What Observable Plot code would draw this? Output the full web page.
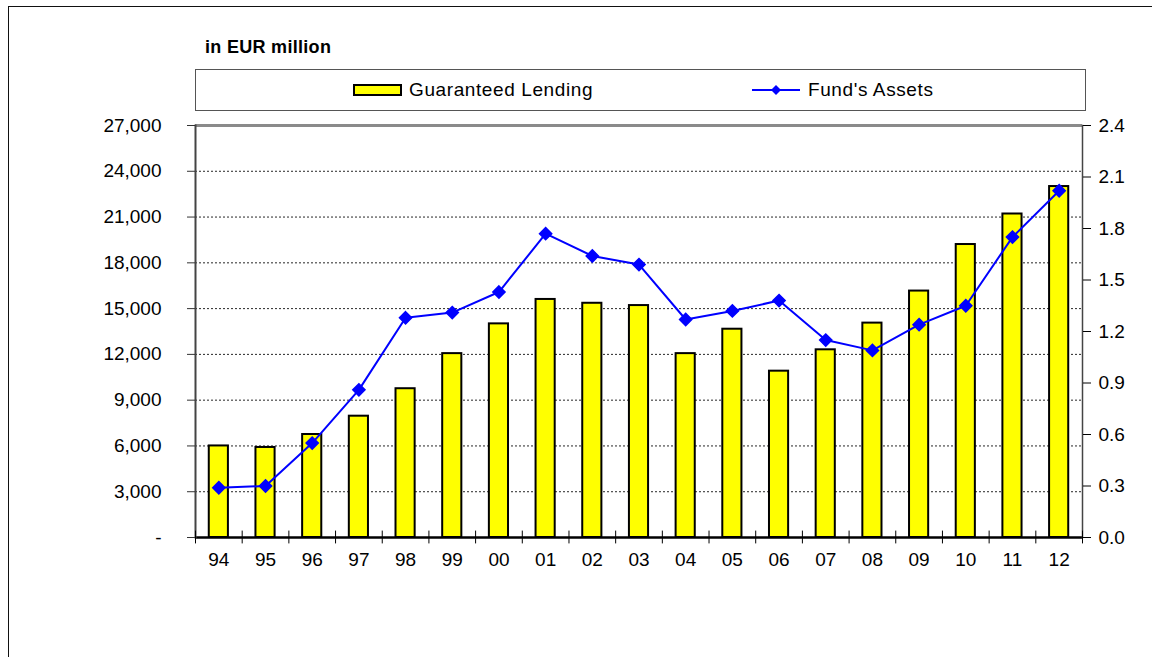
<!DOCTYPE html>
<html>
<head>
<meta charset="utf-8">
<script src="https://cdn.jsdelivr.net/npm/d3@7"></script>
<script src="https://cdn.jsdelivr.net/npm/@observablehq/plot@0.6"></script>
<style>
  html, body { margin: 0; padding: 0; background: #fff; overflow: hidden; }
  body { width: 1152px; height: 657px; position: relative; font-family: "Liberation Sans", Arial, sans-serif; }
  #frame { position: absolute; left: 8px; top: 6px; width: 1170px; height: 720px; border: 1.5px solid #111; }
  #title { position: absolute; left: 205px; top: 38px; font-size: 18px; font-weight: bold; line-height: 18px; color: #000; letter-spacing: 0.3px; }
  #legend { position: absolute; left: 195px; top: 69px; width: 891px; height: 42px; box-sizing: border-box; border: 1.5px solid #555; background: #fff; }
  .lg-item { position: absolute; top: 0; height: 39px; display: flex; align-items: center; font-size: 19px; color: #000; letter-spacing: 0.6px; }
  .lg-item svg { margin-right: 6px; }
  #chart { position: absolute; left: 0; top: 0; }
</style>
</head>
<body>
<div id="frame"></div>
<div id="title">in EUR million</div>
<div id="legend">
  <div class="lg-item" style="left:157px">
    <svg width="50" height="12"><rect x="1" y="1" width="47" height="10" fill="#ffff00" stroke="#000" stroke-width="2"></rect></svg>
    <span>Guaranteed Lending</span>
  </div>
  <div class="lg-item" style="left:556px">
    <svg width="50" height="14"><line x1="0" y1="7" x2="48" y2="7" stroke="#0000ff" stroke-width="2"></line><path d="M24,2 L29,7 L24,12 L19,7 Z" fill="#0000ff"></path></svg>
    <span>Fund's Assets</span>
  </div>
</div>
<div id="chart"></div>
<script>
// ---- data ----
const years = ["94","95","96","97","98","99","00","01","02","03","04","05","06","07","08","09","10","11","12"];
const guaranteedLending = [6000, 5900, 6750, 7950, 9750, 12050, 14000, 15600, 15350, 15200, 12050, 13650, 10900, 12300, 14050, 16150, 19200, 21200, 23000];
const fundsAssets = [0.29, 0.30, 0.55, 0.86, 1.28, 1.31, 1.43, 1.77, 1.64, 1.59, 1.27, 1.32, 1.38, 1.15, 1.09, 1.24, 1.35, 1.75, 2.02];
const leftTicks = [0, 3000, 6000, 9000, 12000, 15000, 18000, 21000, 24000, 27000];
const rightTicks = [0, 0.3, 0.6, 0.9, 1.2, 1.5, 1.8, 2.1, 2.4];

const leftMax = 27000, rightMax = 2.4;
const ratio = leftMax / rightMax;
const data = years.map((y, i) => ({year: y, lending: guaranteedLending[i], assets: fundsAssets[i]}));

const W = 1152, H = 657, mL = 195, mR = 70, mT = 125, mB = 120;
const step = (W - mL - mR) / years.length;

const chart = Plot.plot({
  width: W, height: H,
  marginLeft: mL, marginRight: mR, marginTop: mT, marginBottom: mB,
  style: {fontFamily: "'Liberation Sans', Arial, sans-serif", fontSize: "19px", color: "#000", background: "transparent", overflow: "visible"},
  x: {type: "band", domain: years, paddingInner: 0.59, paddingOuter: 0.295, round: false, label: null},
  y: {domain: [0, leftMax], label: null},
  marks: [
    Plot.gridY(leftTicks.filter(v => v > 0 && v < leftMax), {stroke: "#000", strokeOpacity: 0.85, strokeDasharray: "2,2", strokeWidth: 1}),
    Plot.ruleY([leftMax], {stroke: "#8a8a8a", strokeWidth: 3}),
    Plot.barY(data, {x: "year", y: "lending", fill: "#ffff00", stroke: "#000", strokeWidth: 2}),
    Plot.ruleY([0], {stroke: "#000", strokeWidth: 2.5}),
    Plot.frame({anchor: "left", stroke: "#444", strokeWidth: 2}),
    Plot.frame({anchor: "right", stroke: "#444", strokeWidth: 1.5}),
    Plot.ruleX(years, {x: d => d, dx: -step / 2, y1: 420, y2: -420, stroke: "#000", strokeWidth: 1}),
    Plot.ruleX(years.slice(-1), {x: d => d, dx: step / 2, y1: 420, y2: -420, stroke: "#000", strokeWidth: 1}),
    Plot.line(data, {x: "year", y: d => d.assets * ratio, stroke: "#0000ff", strokeWidth: 2}),
    Plot.dot(data, {x: "year", y: d => d.assets * ratio, symbol: "diamond2", fill: "#0000ff", stroke: "#0000ff", r: 5.5}),
    Plot.axisY({anchor: "left", ticks: leftTicks, tickSize: 8, tickPadding: 26, stroke: "#333", fill: "#000",
      tickFormat: d => d === 0 ? "-" : d3.format(",")(d), label: null}),
    Plot.axisY({anchor: "right", ticks: rightTicks.map(v => v * ratio), tickSize: 8, tickPadding: 8, stroke: "#000", fill: "#000",
      tickFormat: d => (d / ratio).toFixed(1), label: null}),
    Plot.axisX({anchor: "bottom", tickSize: 0, tickPadding: 15, fill: "#000", label: null})
  ]
});
document.getElementById("chart").appendChild(chart);
</script>
</body>
</html>
